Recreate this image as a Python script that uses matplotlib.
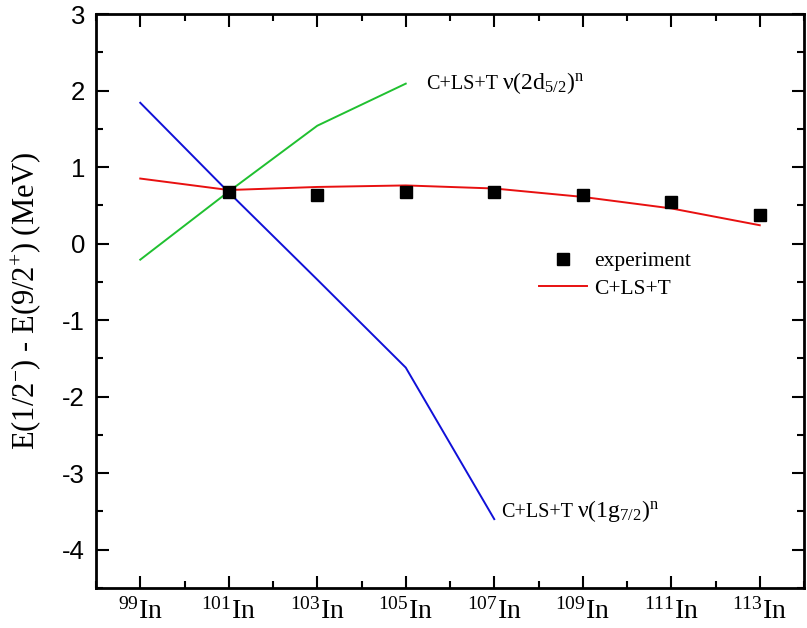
import matplotlib
matplotlib.use('Agg')
import matplotlib.pyplot as plt
from matplotlib.ticker import MultipleLocator

plt.rcParams['mathtext.fontset'] = 'custom'
plt.rcParams['mathtext.rm'] = 'Liberation Serif'
plt.rcParams['mathtext.it'] = 'Liberation Serif:italic'
plt.rcParams['axes.unicode_minus'] = False

# mass numbers of the In isotopes
mass = [99, 101, 103, 105, 107, 109, 111, 113]
tick_labels = ['$^{%d}$In' % a for a in mass]

# experiment (no value for 99In)
exp_mass = [101, 103, 105, 107, 109, 111, 113]
exp_energy = [0.67, 0.63, 0.67, 0.67, 0.64, 0.54, 0.38]

# C+LS+T calculation
calc_energy = [0.85, 0.70, 0.74, 0.76, 0.72, 0.61, 0.46, 0.24]

# nu(2d5/2)^n
d52_mass = [99, 101, 103, 105]
d52_energy = [-0.21, 0.68, 1.54, 2.09]

# nu(1g7/2)^n
g72_mass = [99, 101, 103, 105, 107]
g72_energy = [1.84, 0.67, -0.47, -1.62, -3.60]

fig = plt.figure(figsize=(8.07, 6.28), dpi=100)
ax = fig.add_axes([96/807, 40/628, 708/807, 574/628])

ax.plot(g72_mass, g72_energy, color='#1010d8', lw=1.4)
ax.plot(d52_mass, d52_energy, color='#20c030', lw=1.4)
red, = ax.plot(mass, calc_energy, color='#e81010', lw=1.4, label='C+LS+T')
exp, = ax.plot(exp_mass, exp_energy, 's', color='black', ms=9, label='experiment')

serif = 'Liberation Serif'
# annotations: plain part, then the orbital part slightly larger
t1 = ax.text(105.45, 2.08, 'C+LS+T', family=serif, fontsize=14.5, va='center')
ax.annotate(r'$\mathrm{\nu(2d_{5/2})^{n}}$', xy=(1, 0.5), xycoords=t1,
            xytext=(3, 1), textcoords='offset points', family=serif,
            fontsize=17, va='center')
t2 = ax.text(107.15, -3.51, 'C+LS+T', family=serif, fontsize=14.5, va='center')
ax.annotate(r'$\mathrm{\nu(1g_{7/2})^{n}}$', xy=(1, 0.5), xycoords=t2,
            xytext=(3, 1), textcoords='offset points', family=serif,
            fontsize=17, va='center')

ax.legend(handles=[exp, red], loc='center left', bbox_to_anchor=(539/807, 1-275/628),
          bbox_transform=fig.transFigure, frameon=False, borderpad=0,
          borderaxespad=0, handlelength=2.23, handletextpad=0.33,
          labelspacing=0.35, prop={'family': serif, 'size': 15.5})

ax.set_xlim(98, 114)
ax.set_ylim(-4.5, 3)
ax.set_xticks(mass)
ax.set_xticklabels(tick_labels, family=serif, fontsize=20)
ax.xaxis.set_minor_locator(MultipleLocator(1))
ax.yaxis.set_major_locator(MultipleLocator(1))
ax.yaxis.set_minor_locator(MultipleLocator(0.5))
for lab in ax.get_yticklabels():
    lab.set_family('Liberation Sans')
    lab.set_fontsize(18.5)

ax.tick_params(which='both', direction='in', top=True, right=True, width=1.5)
ax.tick_params(which='major', length=9)
ax.tick_params(which='minor', length=5)
ax.tick_params(axis='x', pad=7)
ax.tick_params(axis='y', pad=8)
for s in ax.spines.values():
    s.set_linewidth(2)

ax.set_ylabel('E(1/2$^{-}$) - E(9/2$^{+}$) (MeV)', family=serif, fontsize=22, labelpad=14)

fig.savefig('out.png', dpi=100)
